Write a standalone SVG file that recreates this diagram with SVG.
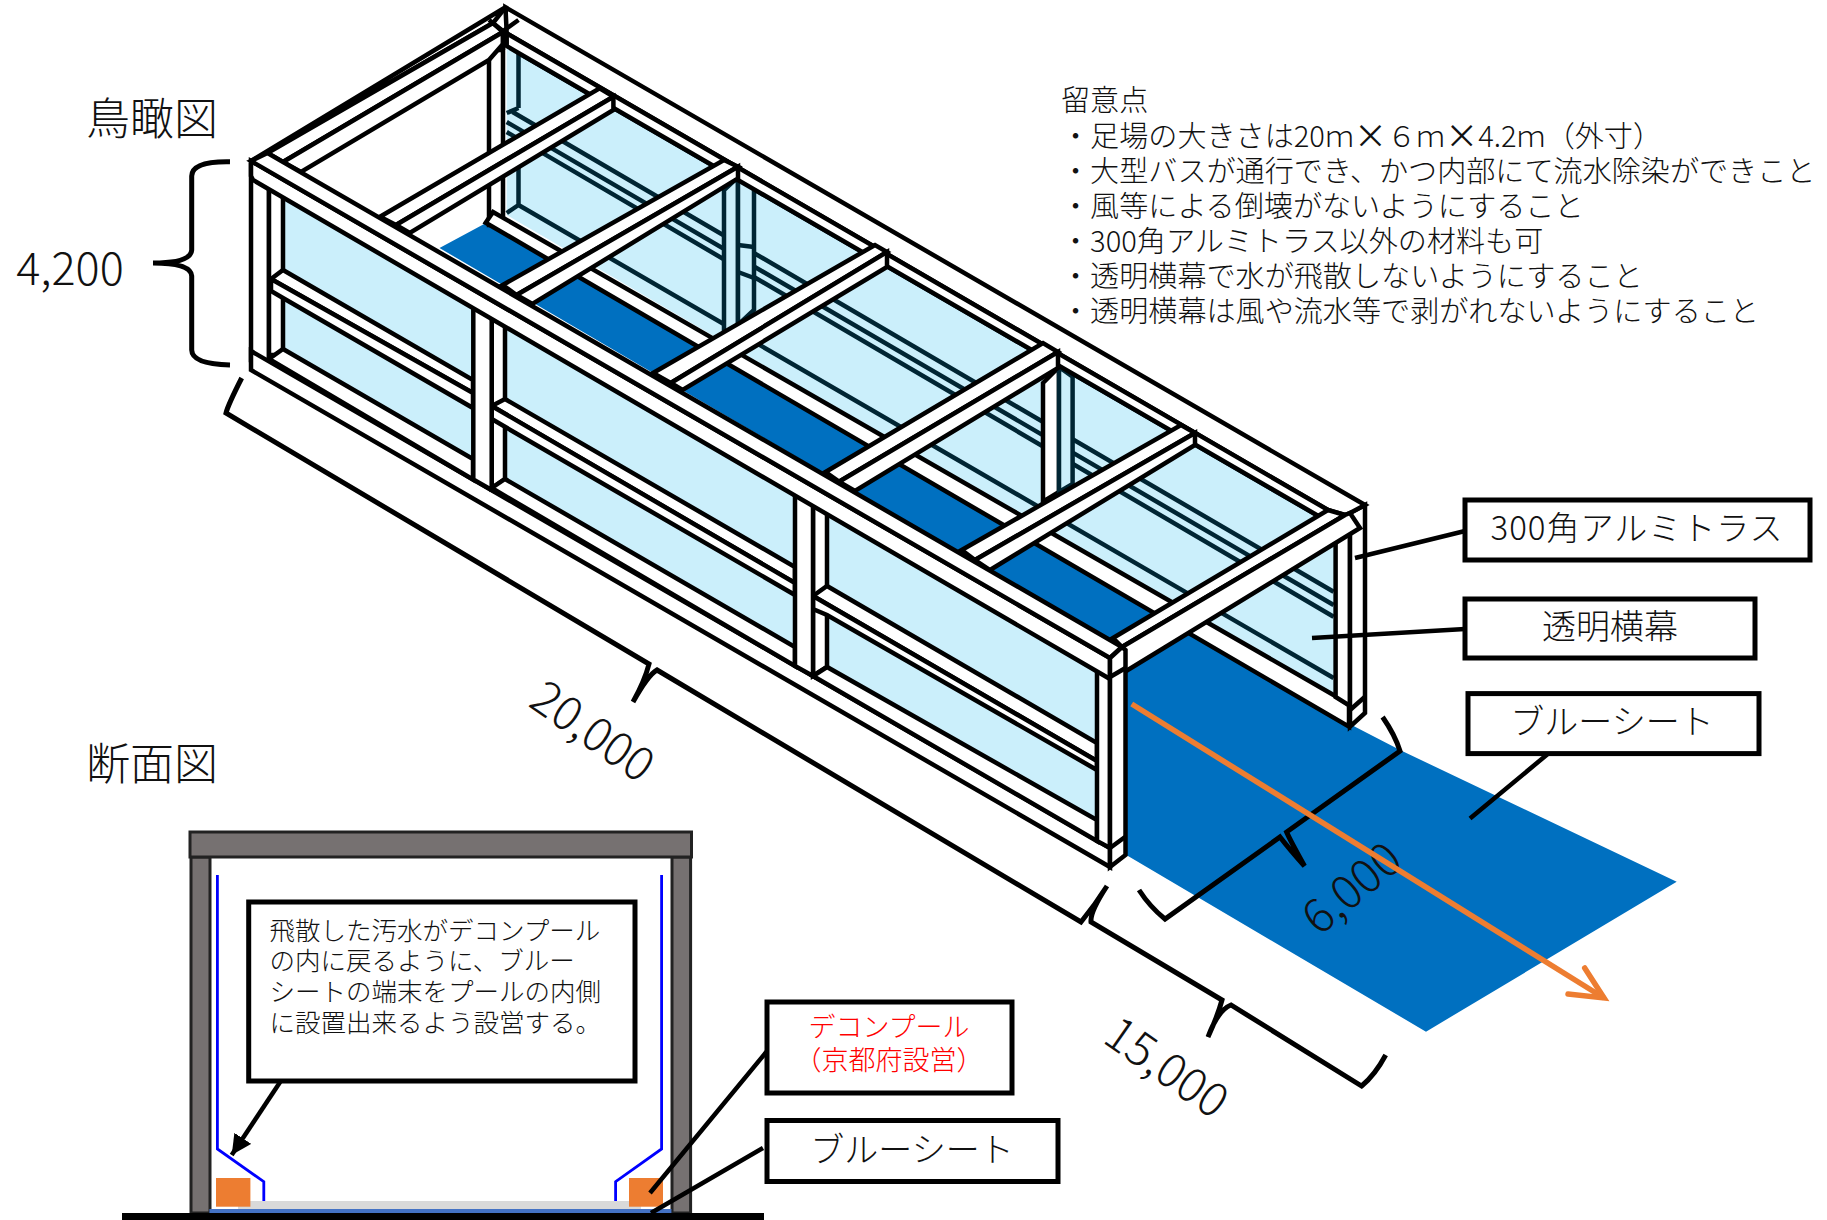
<svg xmlns="http://www.w3.org/2000/svg" width="1827" height="1220" viewBox="0 0 1827 1220">
<defs>
<style>
text{font-family:"Noto Sans CJK JP","Noto Sans",sans-serif;font-weight:300;fill:#111}
.c{text-anchor:middle;dominant-baseline:central}
.w{fill:#fff;stroke:#000;stroke-width:4.5;stroke-linejoin:miter}
.g{fill:#cbeffb}
.t{fill:#cbeffb;stroke:#002533;stroke-width:4.500}
.d{fill:none;stroke:#002533;stroke-width:4.500}
.k{fill:none;stroke:#000;stroke-width:4.500}
.dim{fill:none;stroke:#000;stroke-width:5}
.box{fill:#fff;stroke:#000;stroke-width:5}
.note{font-size:29.1px}
.sec{font-size:25.5px}
.lab{font-size:34px}
.dt{font-size:47px}
.col{fill:#767171;stroke:#222;stroke-width:3}
.bl{fill:none;stroke:#0000ff;stroke-width:2.8}
.or{fill:#ed7d31}
</style>
<marker id="ah" markerUnits="userSpaceOnUse" markerWidth="24" markerHeight="24" refX="20" refY="10" orient="auto"><path d="M0,0L20,10L0,20Z" fill="#000"/></marker>
</defs>
<rect width="1827" height="1220" fill="#fff"/>

<g id="scaffold">
<polygon class="g" points="506.7,45 1335.6,526 1335.6,700 506.7,215"/>
<polygon fill="#0070c0" points="486,223 439.5,248 1126,650 1126,855 1128,856 1426,1031.7 1676.7,881.8 1400,750 1355,726.7"/>
<g id="back-wall">
<path class="d" d="M518.5,53L1335.6,526M512.6,112L1333.6,591.7M506.7,122L1333.6,605M506.7,132L1333.6,616.7M518.5,205L1333.6,678M518.5,53V108M518.5,168V205M506.7,113L518.5,108M506.7,213L518.5,205"/>
<polygon class="t" points="724,190 738,177 738,325 724,333"/>
<polygon class="t" points="738,177 754,187 754,310 738,325"/>
<polygon class="w" points="1043,383 1059,367 1059,492 1043,501.7"/>
<polygon class="t" points="1059,367 1072.6,376.7 1072.6,484 1059,492"/>
<path class="d" d="M738,245L754,247M738,272L754,278"/>
<rect class="w" x="489" y="50" width="14" height="175"/>
<polygon class="w" points="493,212 1337,697 1349,705 1349,726.7 485.7,222.7"/>
</g>
<g id="far-post">
<polygon class="w" points="1335.6,520 1350,520 1350,706 1335.6,697"/>
<polygon class="w" points="1350,513 1365,505 1365,713 1350,726.7"/>
<path class="k" d="M1350,710L1365,696.7"/>
</g>
<g id="back-beam">
<polygon class="w" points="505.5,7.3 1365,505 1350,513 1345,515 1328,510 506.7,33.3"/>
<polygon class="w" points="506.7,33.3 1328,510 1319.7,516.7 518.5,53 506.7,46"/>
</g>
<g id="end-beam-left">
<polygon class="w" points="251,161 505.5,7.3 493,23 267.5,153"/>
<polygon class="w" points="267.5,153 493,23 503,32 283,162"/>
<polygon class="w" points="283,162 503,32 503,44 489,60 301,172"/>
<path class="k" d="M489,20L503,31L518.5,20M503,31V50"/>
</g>
<g id="cross-1"><polygon class="w" points="380,216.7 599.6,88.3 613.4,96.7 396,225"/><polygon class="w" points="396,225 613.4,96.7 613.4,110 409.8,233"/></g>
<g id="cross-2"><polygon class="w" points="502.7,285 724,160 738,166.7 516.6,295"/><polygon class="w" points="516.6,295 738,166.7 738,178.3 532.4,304"/></g>
<g id="cross-3"><polygon class="w" points="653,373 875,245 887,252 670.8,383"/><polygon class="w" points="670.8,383 887,252 887,267 682.6,390"/></g>
<g id="cross-4"><polygon class="w" points="825.5,472 1043,343 1058,352 839,481.7"/><polygon class="w" points="839,481.7 1058,352 1058,368 855,491"/></g>
<g id="cross-5"><polygon class="w" points="961.700,550 1181,425 1195,433 975,560"/><polygon class="w" points="975,560 1195,433 1195,445 990,570"/></g>
<g id="end-beam-right">
<polygon class="w" points="1113,638 1328,510 1345,515 1122,647"/>
<polygon class="w" points="1122,647 1345,515 1350,513 1360,528 1125,671.700"/>
</g>
<g id="front-wall">
<polygon class="g" points="283,197 1097,671.700 1097,830 283,350"/>
<rect class="w" x="251" y="165" width="18" height="195"/>
<rect class="w" x="269" y="180" width="14" height="175"/>
<polygon class="w" points="251,351 1110,848 1110,867 251,370"/>
<polygon class="w" points="491.700,300 505,308 505,479 491.700,488"/>
<polygon class="w" points="813,485 827,495 827,667 813,676"/>
<g id="rail-span-1">
<polygon class="w" points="269,359 283,349 473,459 473,479.500"/>
<polygon class="w" points="271,279 283,270 473,380 473,393"/>
<polygon class="w" points="271,279 473,393 473,408 283,298 271,291"/>
</g>
<g id="rail-span-2">
<polygon class="w" points="491.700,488 505,479 795,647 795,666"/>
<polygon class="w" points="491.700,406 505,399 795,567 795,583"/>
<polygon class="w" points="491.700,406 795,583 795,595 505,426.800 491.700,419"/>
</g>
<g id="rail-span-3">
<polygon class="w" points="813,676 827,667 1097,820 1097,841"/>
<polygon class="w" points="813,596 827,586 1097,743 1097,761"/>
<polygon class="w" points="813,596 1097,761 1097,770 827,615 813,609"/>
</g>
<polygon class="w" points="473.300,295 491.700,305 491.700,490 473.300,479.500"/>
<polygon class="w" points="795,480 813,490 813,676 795,666"/>
<polygon class="w" points="1097,650 1110,655 1110,848 1097,841"/>
<polygon class="w" points="251,161 1110,658 1110,679 253,180 251,176"/>
<polygon class="w" points="251,161 267.500,153 1122,647 1110,658"/>
<polygon class="w" points="1110,658 1122,647 1125.500,650 1125.500,855 1110,867"/>
<path class="k" d="M1110,848L1125,837M1110,677L1125.500,668"/>
</g>
</g>

<g id="dimensions">
<path class="dim" d="M230,161.700Q192,161 191.700,176V250Q191,263 153,263Q191,263 191.700,276V350Q192,364 230,365"/>
<path class="dim" d="M241.700,378Q228,405 226,413L649,664Q645,680 633,702Q648,675 657,670L1081,922Q1095,905 1107,886Q1090,912 1091,922L1222,1000Q1218,1015 1208,1037Q1218,1010 1231,1005L1361.600,1086Q1375,1075 1385.700,1055"/>
<path class="dim" d="M1139,890Q1150,907 1165,919L1280,837Q1290,850 1304.500,866Q1290,840 1286.600,832L1400,751Q1395,735 1382.600,717"/>
<text class="c" transform="translate(70 265)" font-size="45">4,200</text>
<text class="c dt" transform="translate(595 728) rotate(35)">20,000</text>
<text class="c dt" transform="translate(1169 1064) rotate(35)">15,000</text>
<text class="c dt" transform="translate(1349 885) rotate(-40)">6,000</text>
</g>

<g id="connectors">
<path d="M1131.700,704L1604,998" fill="none" stroke="#ed7d31" stroke-width="5.500"/>
<path d="M1584.700,968L1604,998L1568,994" fill="none" stroke="#ed7d31" stroke-width="5.500" stroke-linecap="round"/>
<path class="k" d="M1355,558L1465,531M1312,638L1465,629M1551.700,750.700L1470,818.600"/>
</g>

<g id="titles">
<text class="c" x="152" y="116" font-size="44">鳥瞰図</text>
<text class="c" x="152" y="761" font-size="44">断面図</text>
</g>

<g id="notes">
<text class="note" x="1061" y="98" dominant-baseline="central">留意点</text>
<text class="note" x="1061" y="134" dominant-baseline="central">・足場の大きさは20ｍ<tspan style="font-weight:400;font-size:33px">×</tspan>６ｍ<tspan style="font-weight:400;font-size:33px">×</tspan>4.2ｍ（外寸）</text>
<text class="note" x="1061" y="168.500" dominant-baseline="central">・大型バスが通行でき、かつ内部にて流水除染ができこと</text>
<text class="note" x="1061" y="203.500" dominant-baseline="central">・風等による倒壊がないようにすること</text>
<text class="note" x="1061" y="239" dominant-baseline="central">・300角アルミトラス以外の材料も可</text>
<text class="note" x="1061" y="274" dominant-baseline="central">・透明横幕で水が飛散しないようにすること</text>
<text class="note" x="1061" y="309" dominant-baseline="central">・透明横幕は風や流水等で剥がれないようにすること</text>
</g>

<g id="label-truss"><rect class="box" x="1465" y="500" width="345" height="60"/><text class="c" x="1637" y="526" font-size="33" letter-spacing="1">300角アルミトラス</text></g>
<g id="label-curtain"><rect class="box" x="1465" y="599" width="290" height="59"/><text class="c lab" x="1610" y="624">透明横幕</text></g>
<g id="label-sheet"><rect class="box" x="1468" y="693.600" width="291" height="60"/><text class="c lab" x="1612" y="719">ブルーシート</text></g>

<g id="section">
<rect x="209" y="855" width="464" height="358" fill="#fff" stroke="#000" stroke-width="3"/>
<rect class="col" x="191" y="857" width="19" height="356"/>
<rect class="col" x="672" y="857" width="18.600" height="356"/>
<rect class="col" x="190" y="832" width="501.500" height="25"/>
<rect x="209.400" y="1209" width="462" height="5" fill="#4472c4"/>
<rect x="238" y="1201" width="403" height="8" fill="#d9d9d9"/>
<rect class="or" x="216" y="1178" width="34.400" height="28.700"/>
<rect class="or" x="629" y="1178" width="34" height="28.700"/>
<path class="bl" d="M217.400,875V1149L263.800,1181.700V1201"/>
<path class="bl" d="M661.600,875V1149L615.600,1181.700V1201"/>
<rect x="122" y="1213" width="642" height="7" fill="#000"/>
</g>
<g id="label-note">
<rect class="box" x="248.700" y="902" width="386.300" height="179"/>
<text class="sec" x="269.600" y="928" dominant-baseline="central">飛散した汚水がデコンプール</text>
<text class="sec" x="269.600" y="958" dominant-baseline="central">の内に戻るように、ブルー</text>
<text class="sec" x="269.600" y="989.500" dominant-baseline="central">シートの端末をプールの内側</text>
<text class="sec" x="269.600" y="1020" dominant-baseline="central">に設置出来るよう設営する。</text>
</g>
<g id="label-pool"><rect class="box" x="767" y="1002" width="245" height="91"/><text class="c" x="889" y="1025" font-size="27" style="fill:#ff0000">デコンプール</text><text class="c" x="889" y="1058" font-size="27" style="fill:#ff0000">（京都府設営）</text></g>
<g id="label-sheet-2"><rect class="box" x="767" y="1120.500" width="291" height="61"/><text class="c lab" x="912" y="1147">ブルーシート</text></g>
<g id="section-connectors">
<path class="k" d="M280.800,1081L231.700,1155" marker-end="url(#ah)"/>
<path class="k" d="M766.500,1051.700L650,1193M763,1148L651,1213"/>
</g>
</svg>
